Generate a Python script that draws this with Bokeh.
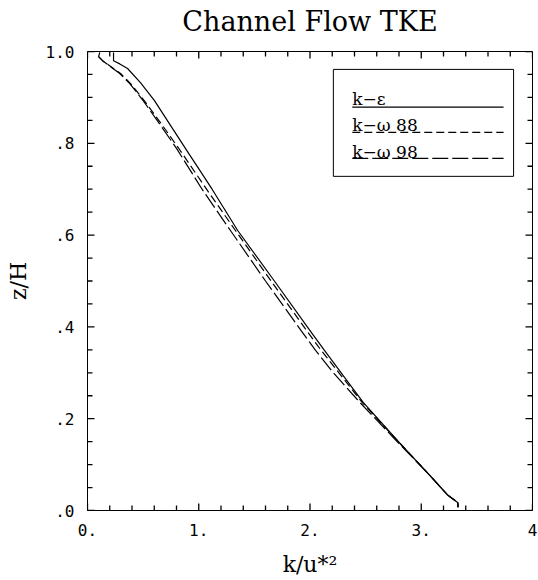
import numpy as np
from bokeh.plotting import figure
from bokeh.models import Range1d, FixedTicker, LinearAxis, BoxAnnotation
from bokeh.core.properties import value
from bokeh.embed import file_html
from bokeh.resources import INLINE

# ---- data ----
z_ke = [0.998, 0.980, 0.973, 0.963, 0.932, 0.893, 0.839, 0.789, 0.700, 0.610, 0.500,
        0.392, 0.349, 0.300, 0.235, 0.146, 0.081, 0.033, 0.017, 0.007]
k_ke = [0.234, 0.234, 0.29, 0.36, 0.476, 0.602, 0.746, 0.88, 1.12, 1.35, 1.68,
        2.00, 2.13, 2.28, 2.48, 2.81, 3.06, 3.24, 3.33, 3.33]

z_kw88 = [0.989, 0.980, 0.952, 0.930, 0.893, 0.845, 0.789, 0.700, 0.610, 0.500,
          0.392, 0.349, 0.300, 0.235, 0.146, 0.081, 0.033, 0.017, 0.007]
k_kw88 = [0.099, 0.135, 0.297, 0.387, 0.51, 0.656, 0.82, 1.07, 1.33, 1.65,
          1.97, 2.10, 2.26, 2.47, 2.81, 3.06, 3.24, 3.33, 3.33]

z_kw98 = [0.998, 0.989, 0.980, 0.952, 0.930, 0.893, 0.845, 0.789, 0.700, 0.610,
          0.500, 0.392, 0.349, 0.300, 0.235, 0.146, 0.081, 0.033, 0.017, 0.007]
k_kw98 = [0.11, 0.10, 0.135, 0.29, 0.38, 0.50, 0.64, 0.80, 1.03, 1.285,
          1.60, 1.92, 2.05, 2.21, 2.45, 2.80, 3.06, 3.24, 3.33, 3.33]

series_labels = ["k\u2212\u03b5", "k\u2212\u03c9 88", "k\u2212\u03c9 98"]
series_dash = ["solid", "8 4", "16 4"]

x_ticks = [0, 1, 2, 3, 4]
x_tick_labels = ["0.", "1.", "2.", "3.", "4"]
y_ticks = [0.0, 0.2, 0.4, 0.6, 0.8, 1.0]
y_tick_labels = [".0", ".2", ".4", ".6", ".8", "1.0"]

title_text = "Channel Flow TKE"
x_label = "k/u*\u00b2"
y_label = "z/H"

# ---- figure ----
W, H = 538, 580
ML, MR, MT, MB = 87, 6, 51, 70
FW, FH = W - ML - MR, H - MT - MB
X0, X1, Y0, Y1 = 0.0, 4.0, 0.0, 1.0

p = figure(width=W, height=H, output_backend="svg", toolbar_location=None,
           x_range=Range1d(X0, X1), y_range=Range1d(Y0, Y1),
           min_border_left=ML, min_border_right=MR, min_border_top=MT,
           min_border_bottom=MB, x_axis_type=None, y_axis_type=None)
p.background_fill_color = "white"
p.border_fill_color = "white"
p.outline_line_color = "black"
p.outline_line_width = 1
p.xgrid.visible = False
p.ygrid.visible = False

p.title.text = title_text
p.title.text_font = "DejaVu Serif"
p.title.text_font_size = "27px"
p.title.text_font_style = "normal"
p.title.align = "center"
p.title.text_color = "black"
p.title.standoff = 4

# invisible spacer axis above the frame: lifts the title
spacer = LinearAxis(ticker=FixedTicker(ticks=[X0]), axis_line_color=None,
                    major_tick_in=0, major_tick_out=13, minor_tick_in=0,
                    minor_tick_out=0, major_label_standoff=0,
                    major_label_text_font_size="0px",
                    major_label_overrides={X0: ""},
                    major_tick_line_color=None, minor_tick_line_color=None)
p.add_layout(spacer, "above")

x_minor = [round(v, 2) for v in np.arange(X0, X1 + 0.001, 0.2)]
y_minor = [round(v, 2) for v in np.arange(Y0, Y1 + 0.001, 0.05)]
xt = FixedTicker(ticks=x_ticks)
yt = FixedTicker(ticks=y_ticks)

def style(ax):
    ax.axis_line_color = "black"
    ax.major_tick_in = 0
    ax.major_tick_out = 0
    ax.minor_tick_in = 0
    ax.minor_tick_out = 0
    ax.major_label_text_font = "DejaVu Sans Mono"
    ax.major_label_text_font_size = "16px"
    ax.major_label_text_color = "black"
    ax.axis_label_text_font = "DejaVu Serif"
    ax.axis_label_text_font_size = "22px"
    ax.axis_label_text_font_style = "normal"
    ax.axis_label_text_color = "black"

xb = LinearAxis(ticker=xt, axis_label=x_label,
                major_label_overrides={t: l for t, l in zip(x_ticks, x_tick_labels)})
style(xb)
xb.major_label_standoff = 13
xb.axis_label_standoff = 13
p.add_layout(xb, "below")

yl = LinearAxis(ticker=yt, axis_label=y_label,
                major_label_overrides={t: l for t, l in zip(y_ticks, y_tick_labels)})
style(yl)
yl.major_label_standoff = 13
yl.axis_label_standoff = 12
p.add_layout(yl, "left")

# ---- inward ticks on all four sides (drawn from the tick arrays) ----
MAJ, MIN = 7.0, 5.0
dy_per_px = (Y1 - Y0) / FH
dx_per_px = (X1 - X0) / FW
tick_color = "#000000"
TW = 1.3
for ticks, L in ((x_ticks, MAJ), ([t for t in x_minor if t not in x_ticks], MIN)):
    t = [float(v) for v in ticks]
    n = len(t)
    p.segment(x0=t, y0=[Y0] * n, x1=t, y1=[Y0 + L * dy_per_px] * n,
              line_color=tick_color, line_width=TW)
    p.segment(x0=t, y0=[Y1] * n, x1=t, y1=[Y1 - L * dy_per_px] * n,
              line_color=tick_color, line_width=TW)
for ticks, L in ((y_ticks, MAJ), ([t for t in y_minor if t not in y_ticks], MIN)):
    t = [float(v) for v in ticks]
    n = len(t)
    p.segment(x0=[X0] * n, y0=t, x1=[X0 + L * dx_per_px] * n, y1=t,
              line_color=tick_color, line_width=TW)
    p.segment(x0=[X1] * n, y0=t, x1=[X1 - L * dx_per_px] * n, y1=t,
              line_color=tick_color, line_width=TW)

# ---- curves ----
xs_all = [k_ke, k_kw88, k_kw98]
zs_all = [z_ke, z_kw88, z_kw98]
for xs, zs, dash in zip(xs_all, zs_all, series_dash):
    p.line(xs, zs, line_color="black", line_width=1.2, line_dash=dash,
           line_join="round")

# ---- custom legend (text above a line sample) ----
leg_box = BoxAnnotation(left=2.21, right=3.83, bottom=0.728, top=0.961,
                        fill_alpha=0, line_color="black", line_width=1,
                        line_alpha=1)
p.add_layout(leg_box)
leg_text_y = [0.896, 0.839, 0.781]
leg_line_y = [0.879, 0.824, 0.767]
for lab, dash, ty, ly in zip(series_labels, series_dash, leg_text_y, leg_line_y):
    p.text(x=[2.38], y=[ty], text=[lab], text_font=value("DejaVu Serif"),
           text_font_size="17px", text_baseline="alphabetic", text_color="black")
    p.segment(x0=[2.38], y0=[ly], x1=[3.74], y1=[ly], line_color="black",
              line_width=1.2, line_dash=dash)

open("out.html", "w").write(file_html(p, INLINE))
